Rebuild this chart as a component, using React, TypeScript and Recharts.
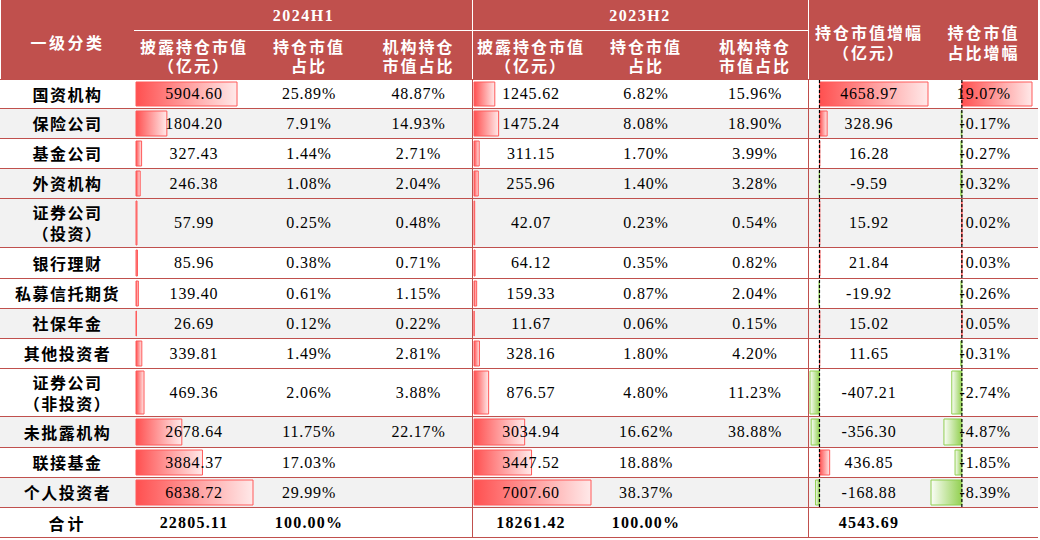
import React from 'react';
import { BarChart, Bar, XAxis, YAxis, ReferenceLine } from 'recharts';

// ---------------- data ----------------
const categories = ['国资机构', '保险公司', '基金公司', '外资机构', '证券公司\n（投资）', '银行理财', '私募信托期货', '社保年金', '其他投资者', '证券公司\n（非投资）', '未批露机构', '联接基金', '个人投资者'];
const h1Value = [5904.6, 1804.2, 327.43, 246.38, 57.99, 85.96, 139.4, 26.69, 339.81, 469.36, 2678.64, 3884.37, 6838.72];
const h1Share = [25.89, 7.91, 1.44, 1.08, 0.25, 0.38, 0.61, 0.12, 1.49, 2.06, 11.75, 17.03, 29.99];
const h1InstShare: (number | null)[] = [48.87, 14.93, 2.71, 2.04, 0.48, 0.71, 1.15, 0.22, 2.81, 3.88, 22.17, null, null];
const h2Value = [1245.62, 1475.24, 311.15, 255.96, 42.07, 64.12, 159.33, 11.67, 328.16, 876.57, 3034.94, 3447.52, 7007.6];
const h2Share = [6.82, 8.08, 1.7, 1.4, 0.23, 0.35, 0.87, 0.06, 1.8, 4.8, 16.62, 18.88, 38.37];
const h2InstShare: (number | null)[] = [15.96, 18.9, 3.99, 3.28, 0.54, 0.82, 2.04, 0.15, 4.2, 11.23, 38.88, null, null];
const valueChange = [4658.97, 328.96, 16.28, -9.59, 15.92, 21.84, -19.92, 15.02, 11.65, -407.21, -356.3, 436.85, -168.88];
const shareChange = [19.07, -0.17, -0.27, -0.32, 0.02, 0.03, -0.26, 0.05, -0.31, -2.74, -4.87, -1.85, -8.39];
const totalLabel = '合计';
const totals = { h1Value: 22805.11, h1Share: 100.0, h2Value: 18261.42, h2Share: 100.0, valueChange: 4543.69 };

const periodLabels = ['2024H1', '2023H2'];
const subHeaders = [['披露持仓市值', '（亿元）'], ['持仓市值', '占比'], ['机构持仓', '市值占比']];
const changeHeaders = [['持仓市值增幅', '（亿元）'], ['持仓市值', '占比增幅']];
const firstHeader = '一级分类';

// ---------------- layout ----------------
const RED = '#c0504d';
const rowLines = [79, 108, 138, 168, 198, 247, 278, 308, 338, 368, 416, 447, 477, 507, 537];
const TABLE_W = 1038;
const CJK = '"Noto Sans CJK SC", sans-serif';
const NUM = '"Liberation Serif", "DejaVu Serif", serif';

const fmt = (v: number) => v.toFixed(2);
const pct = (v: number) => `${v.toFixed(2)}%`;

type DataBarProps = { value: number; min: number; max: number; left: number; width: number; top: number; height: number; id: string; axis?: boolean };

function DataBar({ value, min, max, left, width, top, height, id, axis }: DataBarProps) {
  const neg = value < 0;
  return (
    <div style={{ position: 'absolute', left, top, width, height }}>
      <BarChart
        layout="vertical"
        width={width}
        height={height}
        data={[{ name: 'v', v: value }]}
        margin={{ top: 0, right: 1, bottom: 0, left: 1 }}
        barCategoryGap={0}
      >
        <defs>
          <linearGradient id={id} x1="0" y1="0" x2="1" y2="0">
            {neg ? (
              <>
                <stop offset="0" stopColor="#fbfdf8" />
                <stop offset="1" stopColor="#92d050" />
              </>
            ) : (
              <>
                <stop offset="0" stopColor="#ff5050" />
                <stop offset="1" stopColor="#ffe9e9" />
              </>
            )}
          </linearGradient>
        </defs>
        <XAxis type="number" domain={[min, max]} hide />
        <YAxis type="category" dataKey="name" hide />
        <Bar dataKey="v" barSize={height - 4} fill={`url(#${id})`} stroke={neg ? '#8fce4f' : '#ff5a5a'} strokeWidth={1} isAnimationActive={false} />
        {axis ? <ReferenceLine x={0} stroke="#000" strokeDasharray="3 2" strokeWidth={1.2} /> : null}
      </BarChart>
    </div>
  );
}

type TextProps = { left: number; width: number; top: number; height: number; text: string; bold?: boolean; align?: 'center' | 'right' | 'left'; font?: string; size?: number; spacing?: number; color?: string; lineHeight?: number };

function TextCell({ left, width, top, height, text, bold, align = 'center', font = NUM, size = 16, spacing = 0.8, color = '#000', lineHeight }: TextProps) {
  return (
    <div
      style={{
        position: 'absolute', left, top, width, height,
        display: 'flex', alignItems: 'center',
        justifyContent: align === 'center' ? 'center' : align === 'right' ? 'flex-end' : 'flex-start',
        textAlign: align, whiteSpace: 'pre-line',
        fontFamily: font, fontSize: size, fontWeight: bold ? 700 : 400,
        letterSpacing: spacing, color, lineHeight: lineHeight ? `${lineHeight}px` : 'normal',
      }}
    >
      {text}
    </div>
  );
}

export default function App() {
  const h1Max = Math.max(...h1Value);
  const h2Max = Math.max(...h2Value);
  const vcMin = Math.min(...valueChange);
  const vcMax = Math.max(...valueChange);
  const scMin = Math.min(...shareChange);
  const scMax = Math.max(...shareChange);

  const h1Cols = [[135, 253], [253, 365], [365, 472]];
  const h2Cols = [[472, 590], [590, 702], [702, 808]];
  const changeCols = [[808, 930], [930, TABLE_W - 1]];

  const rows = categories.map((c, i) => {
    const top = rowLines[i];
    const h = rowLines[i + 1] - rowLines[i];
    const gray = [1, 3, 4, 7, 10, 12].includes(i);
    const ct = top + 1;
    const ch = h - 1;
    return (
      <React.Fragment key={c}>
        <div style={{ position: 'absolute', left: 0, top, width: TABLE_W, height: h, borderTop: `1px solid ${RED}`, boxSizing: 'border-box', background: gray ? '#f2f2f2' : '#fff' }} />
        <DataBar id={`g1-${i}`} value={h1Value[i]} min={0} max={h1Max} left={135} width={119} top={ct} height={ch} />
        <DataBar id={`g2-${i}`} value={h2Value[i]} min={0} max={h2Max} left={473} width={119} top={ct} height={ch} />
        <DataBar id={`g3-${i}`} value={valueChange[i]} min={vcMin} max={vcMax} left={809} width={120} top={ct} height={ch} axis />
        <DataBar id={`g4-${i}`} value={shareChange[i]} min={scMin} max={scMax} left={930} width={103} top={ct} height={ch} axis />
        <TextCell left={0} width={135} top={ct} height={ch} text={c} bold font={CJK} size={16} spacing={1.5} lineHeight={21} />
        <TextCell left={h1Cols[0][0]} width={h1Cols[0][1] - h1Cols[0][0]} top={ct} height={ch} text={fmt(h1Value[i])} />
        <TextCell left={h1Cols[1][0]} width={h1Cols[1][1] - h1Cols[1][0]} top={ct} height={ch} text={pct(h1Share[i])} />
        <TextCell left={h1Cols[2][0]} width={h1Cols[2][1] - h1Cols[2][0]} top={ct} height={ch} text={h1InstShare[i] == null ? '' : pct(h1InstShare[i] as number)} />
        <TextCell left={h2Cols[0][0]} width={h2Cols[0][1] - h2Cols[0][0]} top={ct} height={ch} text={fmt(h2Value[i])} />
        <TextCell left={h2Cols[1][0]} width={h2Cols[1][1] - h2Cols[1][0]} top={ct} height={ch} text={pct(h2Share[i])} />
        <TextCell left={h2Cols[2][0]} width={h2Cols[2][1] - h2Cols[2][0]} top={ct} height={ch} text={h2InstShare[i] == null ? '' : pct(h2InstShare[i] as number)} />
        <TextCell left={changeCols[0][0]} width={changeCols[0][1] - changeCols[0][0]} top={ct} height={ch} text={fmt(valueChange[i])} />
        <TextCell left={940} width={71} top={ct} height={ch} text={pct(shareChange[i])} align="right" />
      </React.Fragment>
    );
  });

  const tTop = rowLines[13];
  const tH = rowLines[14] - rowLines[13];

  return (
    <div style={{ position: 'absolute', left: 0, top: 0, width: 1040, height: 540, background: '#fff', overflow: 'hidden' }}>
      {/* header */}
      <div style={{ position: 'absolute', left: 0, top: 0, width: TABLE_W, height: 80, background: RED }} />
      <div style={{ position: 'absolute', left: 0, top: 0, width: 1, height: 80, background: '#fff' }} />
      <div style={{ position: 'absolute', left: 134, top: 30, width: 674, height: 1, background: '#fff' }} />
      <div style={{ position: 'absolute', left: 472, top: 0, width: 1, height: 79, background: '#fff' }} />
      <div style={{ position: 'absolute', left: 808, top: 0, width: 1, height: 79, background: '#fff' }} />
      <TextCell left={0} width={135} top={4} height={75} text={firstHeader} bold font={CJK} size={16} spacing={2.5} color="#fff" />
      {periodLabels.map((p, k) => (
        <TextCell key={p} left={k === 0 ? 135 : 472} width={k === 0 ? 337 : 336} top={1} height={30} text={p} bold size={16} spacing={1.5} color="#fff" />
      ))}
      {[h1Cols, h2Cols].map((cols, k) =>
        cols.map((col, j) => (
          <TextCell key={`${k}-${j}`} left={col[0]} width={col[1] - col[0]} top={33} height={46} text={subHeaders[j].join('\n')} bold font={CJK} size={16} spacing={2} color="#fff" lineHeight={19} />
        ))
      )}
      {changeCols.map((col, j) => (
        <TextCell key={`c-${j}`} left={col[0]} width={col[1] - col[0]} top={2} height={79} text={changeHeaders[j].join('\n')} bold font={CJK} size={16} spacing={2} color="#fff" lineHeight={20} />
      ))}

      {rows}

      {/* total row */}
      <div style={{ position: 'absolute', left: 0, top: tTop, width: TABLE_W, height: tH + 1, borderTop: `1px solid ${RED}`, borderBottom: `1px solid ${RED}`, boxSizing: 'border-box', background: '#fff' }} />
      <TextCell left={0} width={135} top={tTop + 1} height={tH - 1} text={totalLabel} bold font={CJK} size={16} spacing={3} />
      <TextCell left={h1Cols[0][0]} width={h1Cols[0][1] - h1Cols[0][0]} top={tTop + 1} height={tH - 1} text={fmt(totals.h1Value)} bold spacing={1.2} />
      <TextCell left={h1Cols[1][0]} width={h1Cols[1][1] - h1Cols[1][0]} top={tTop + 1} height={tH - 1} text={pct(totals.h1Share)} bold spacing={1.2} />
      <TextCell left={h2Cols[0][0]} width={h2Cols[0][1] - h2Cols[0][0]} top={tTop + 1} height={tH - 1} text={fmt(totals.h2Value)} bold spacing={1.2} />
      <TextCell left={h2Cols[1][0]} width={h2Cols[1][1] - h2Cols[1][0]} top={tTop + 1} height={tH - 1} text={pct(totals.h2Share)} bold spacing={1.2} />
      <TextCell left={changeCols[0][0]} width={changeCols[0][1] - changeCols[0][0]} top={tTop + 1} height={tH - 1} text={fmt(totals.valueChange)} bold spacing={1.2} />

      {/* body vertical separators */}
      <div style={{ position: 'absolute', left: 472, top: 79, width: 1, height: 459, background: RED }} />
      <div style={{ position: 'absolute', left: 808, top: 79, width: 1, height: 459, background: RED }} />
    </div>
  );
}
